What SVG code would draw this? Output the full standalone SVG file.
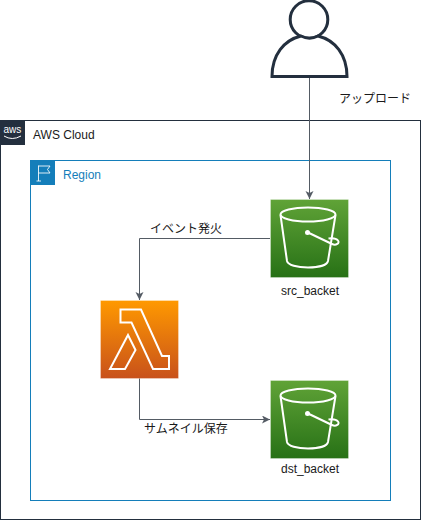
<svg xmlns="http://www.w3.org/2000/svg" width="421" height="521" viewBox="0 0 421 521">
<style>
text{font-family:"Liberation Sans","Noto Sans CJK JP",sans-serif;font-size:12px;fill:#1a1a1a}
.c{fill:none;stroke:#545b64;stroke-width:1}
.w{fill:none;stroke:#fff;stroke-width:2;stroke-linejoin:miter}
.tile{stroke:#fff;stroke-opacity:.3;stroke-width:1}
</style>
<defs>
<linearGradient id="g" x1="0" y1="1" x2="0" y2="0"><stop offset="0" stop-color="#277116"/><stop offset="1" stop-color="#60a337"/></linearGradient>
<linearGradient id="o" x1="0" y1="1" x2="0" y2="0"><stop offset="0" stop-color="#c8511b"/><stop offset="1" stop-color="#f90"/></linearGradient>
<marker id="a" markerWidth="9" markerHeight="9" refX="8" refY="4" orient="auto" markerUnits="userSpaceOnUse"><path d="M0 0L8 4L0 8L2 4Z" fill="#545b64"/></marker>
<g id="bucket">
<ellipse cx="38" cy="15.500" rx="27.500" ry="7" class="w"/>
<path class="w" d="M10.500 16L17 62C18 66 27 68.500 38 68.500C49 68.500 57 66 58 62L65.500 16"/>
<circle cx="37.500" cy="33.500" r="2.500" fill="#fff"/>
<path class="w" d="M38 33.500L62 45C66 47 70 44 68 41.500C66 39 62 39 58.500 39.500"/>
</g>
</defs>
<g id="aws-cloud">
<rect x="0.500" y="120.500" width="420" height="399" fill="#fff" stroke="#232f3e"/>
<rect x="0" y="120" width="25" height="25" fill="#232f3e"/>
<text x="3.500" y="133" style="font-size:10px;fill:#fff">aws</text>
<path d="M4 136Q12 141 21 136" fill="none" stroke="#fff"/>
<text x="33" y="138.500">AWS Cloud</text>
</g>
<g id="region">
<rect x="30.500" y="160.500" width="360" height="340" fill="#fff" stroke="#147eba"/>
<rect x="30" y="160" width="25" height="25" fill="#147eba"/>
<path d="M38.500 181V165.500M38.500 166H50L47.500 169.500L50 173H38.500M36.500 181H41" fill="none" stroke="#fff" stroke-opacity=".85"/>
<text x="63" y="178.500" style="fill:#147eba">Region</text>
</g>
<g id="connectors">
<path class="c" d="M309.500 78V199" marker-end="url(#a)"/>
<path class="c" d="M270 238.500H139.500V300" marker-end="url(#a)"/>
<path class="c" d="M139.500 378V419.500H270" marker-end="url(#a)"/>
<text x="339" y="103">アップロード</text>
<text x="150" y="232.500">イベント発火</text>
<text x="144" y="433">サムネイル保存</text>
</g>
<g id="user">
<circle cx="309" cy="19.500" r="18.800" fill="#fff" stroke="#232f3e" stroke-width="3"/>
<path d="M272 76.500C272 55 284 40 301 36Q309.500 40.500 318 36C335 40 347 55 347 76.500Z" fill="#fff" stroke="#232f3e" stroke-width="3"/>
</g>
<g id="src_backet">
<rect class="tile" x="270.500" y="199.500" width="78" height="78" fill="url(#g)"/>
<use href="#bucket" x="270" y="199"/>
<text x="310" y="295" text-anchor="middle">src_backet</text>
</g>
<g id="dst_backet">
<rect class="tile" x="270.500" y="380.500" width="78" height="78" fill="url(#g)"/>
<use href="#bucket" x="270" y="380"/>
<text x="310" y="473" text-anchor="middle">dst_backet</text>
</g>
<g id="lambda">
<rect class="tile" x="100.500" y="300.500" width="78" height="78" fill="url(#o)"/>
<path class="w" d="M120.500 309.500H141L162 356H169V369H153L131.500 322.500H120.500Z"/>
<path class="w" d="M128 335L135.500 350L125 369H110Z"/>
</g>
</svg>
